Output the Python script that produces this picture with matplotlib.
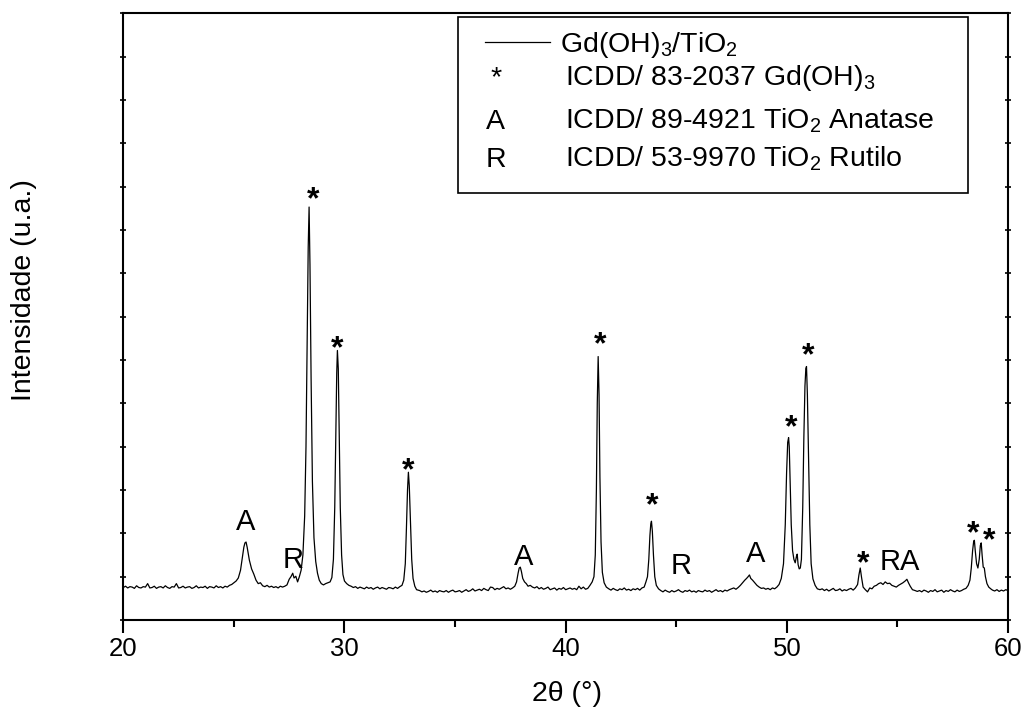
import matplotlib
matplotlib.use("Agg")
import matplotlib.pyplot as plt
from matplotlib.patches import Rectangle
from matplotlib.ticker import MultipleLocator

plt.rcParams["font.family"] = ["Liberation Sans", "DejaVu Sans"]
plt.rcParams["mathtext.fontset"] = "custom"
plt.rcParams["mathtext.rm"] = "Liberation Sans"
plt.rcParams["mathtext.it"] = "Liberation Sans:italic"

# XRD scan: (2theta in degrees, intensity in counts)
scan = [
    (20.0, 75), (20.1, 78), (20.2, 74), (20.3, 77), (20.4, 76), (20.5, 73), (20.6, 79), (20.7, 75), (20.8, 74), (20.9, 77),
    (21.0, 76), (21.1, 84), (21.2, 74), (21.3, 75), (21.4, 78), (21.5, 73), (21.6, 76), (21.7, 77), (21.8, 74), (21.9, 79),
    (22.0, 75), (22.1, 73), (22.2, 77), (22.3, 76), (22.4, 84), (22.5, 74), (22.6, 75), (22.7, 78), (22.8, 74), (22.9, 76),
    (23.0, 77), (23.1, 73), (23.2, 75), (23.3, 79), (23.4, 74), (23.5, 76), (23.6, 75), (23.7, 78), (23.8, 73), (23.9, 77),
    (24.0, 76), (24.1, 74), (24.2, 79), (24.3, 75), (24.4, 77), (24.5, 74), (24.6, 78), (24.7, 76), (24.8, 80),
    # anatase 25.5
    (24.9, 82), (25.0, 86), (25.1, 90), (25.2, 97), (25.3, 115), (25.4, 150), (25.45, 168), (25.5, 178), (25.55, 180),
    (25.6, 168), (25.7, 138), (25.8, 118), (25.9, 106), (26.0, 92), (26.1, 84), (26.2, 86), (26.3, 79), (26.4, 77),
    (26.5, 80), (26.6, 76), (26.7, 78), (26.8, 75), (26.9, 77), (27.0, 74), (27.1, 78), (27.2, 76),
    # rutile 27.7 and Gd(OH)3 28.4
    (27.3, 78), (27.4, 81), (27.5, 94), (27.58, 100), (27.66, 108), (27.72, 97), (27.8, 101), (27.88, 88), (27.96, 100),
    (28.04, 115), (28.12, 150), (28.2, 240), (28.26, 400), (28.31, 620), (28.36, 860), (28.4, 953), (28.44, 820),
    (28.49, 560), (28.55, 320), (28.62, 190), (28.7, 135), (28.78, 108), (28.86, 92), (28.95, 84), (29.05, 81), (29.15, 84),
    # 29.7
    (29.25, 86), (29.35, 88), (29.43, 98), (29.5, 140), (29.56, 260), (29.61, 430), (29.65, 570), (29.68, 622),
    (29.72, 580), (29.76, 440), (29.81, 260), (29.87, 150), (29.93, 105), (30.0, 90), (30.1, 84), (30.2, 80),
    (30.3, 78), (30.4, 75), (30.5, 77), (30.6, 73), (30.7, 76), (30.8, 74), (30.9, 72), (31.0, 76), (31.1, 73), (31.2, 75),
    (31.3, 71), (31.4, 74), (31.5, 76), (31.6, 72), (31.7, 75), (31.8, 73), (31.9, 71), (32.0, 75), (32.1, 74), (32.2, 72),
    (32.3, 76), (32.4, 73), (32.5, 77),
    # 32.9
    (32.6, 80), (32.68, 92), (32.75, 130), (32.8, 210), (32.85, 300), (32.89, 341), (32.93, 310), (32.98, 230),
    (33.04, 140), (33.1, 96), (33.18, 78), (33.26, 70),
    (33.4, 68), (33.5, 65), (33.6, 67), (33.7, 64), (33.8, 66), (33.9, 69), (34.0, 65), (34.1, 67), (34.2, 64), (34.3, 68),
    (34.4, 66), (34.5, 65), (34.6, 68), (34.7, 64), (34.8, 67), (34.9, 69), (35.0, 65), (35.1, 66), (35.2, 68), (35.3, 64),
    (35.4, 67), (35.5, 70), (35.6, 66), (35.7, 68), (35.8, 72), (35.9, 67), (36.0, 69), (36.1, 71), (36.2, 68), (36.3, 73),
    (36.4, 70), (36.5, 68), (36.6, 76), (36.7, 75), (36.8, 70), (36.9, 73), (37.0, 71), (37.1, 74), (37.2, 77), (37.3, 72),
    (37.4, 74), (37.5, 71),
    # anatase 37.9
    (37.6, 74), (37.7, 78), (37.78, 88), (37.85, 108), (37.9, 120), (37.95, 122), (38.0, 112), (38.06, 96), (38.14, 88),
    (38.22, 84), (38.3, 78),
    (38.4, 80), (38.5, 76), (38.6, 74), (38.7, 77), (38.8, 72), (38.9, 75), (39.0, 71), (39.1, 73), (39.2, 76), (39.3, 70),
    (39.4, 72), (39.5, 74), (39.6, 69), (39.7, 73), (39.8, 71), (39.9, 75), (40.0, 70), (40.1, 72), (40.2, 74), (40.3, 71),
    (40.4, 73), (40.5, 70), (40.6, 78), (40.7, 72), (40.8, 76), (40.9, 71), (41.0, 73), (41.1, 80),
    # 41.5
    (41.2, 88), (41.28, 100), (41.34, 150), (41.39, 300), (41.43, 500), (41.47, 608), (41.51, 520), (41.55, 330),
    (41.6, 180), (41.66, 110), (41.74, 86), (41.84, 76),
    (41.95, 72), (42.05, 69), (42.15, 73), (42.25, 70), (42.35, 68), (42.45, 72), (42.55, 70), (42.65, 74), (42.75, 69),
    (42.85, 71), (42.95, 68), (43.05, 72), (43.15, 70), (43.25, 73), (43.35, 69), (43.45, 74), (43.55, 76),
    # 43.9
    (43.63, 88), (43.7, 100), (43.76, 140), (43.81, 195), (43.85, 222), (43.88, 228), (43.92, 205), (43.97, 150),
    (44.03, 100), (44.1, 80), (44.2, 72),
    (44.3, 68), (44.4, 65), (44.5, 69), (44.6, 66), (44.7, 64), (44.8, 68), (44.9, 65), (45.0, 67), (45.1, 70), (45.2, 66),
    (45.3, 64), (45.4, 68), (45.5, 66), (45.6, 69), (45.7, 65), (45.8, 67), (45.9, 64), (46.0, 68), (46.1, 66), (46.2, 65),
    (46.3, 69), (46.4, 66), (46.5, 68), (46.6, 64), (46.7, 67), (46.8, 70), (46.9, 66), (47.0, 68), (47.1, 65), (47.2, 69),
    (47.3, 67), (47.4, 70), (47.5, 72), (47.6, 74), (47.7, 71), (47.8, 75),
    # anatase 48.3
    (47.9, 80), (48.0, 86), (48.1, 92), (48.18, 96), (48.25, 100), (48.31, 104), (48.37, 96), (48.45, 92), (48.55, 86),
    (48.65, 80), (48.75, 76), (48.85, 73), (48.95, 74), (49.05, 71), (49.15, 73), (49.25, 70), (49.35, 74), (49.45, 72),
    # 50.1 / 50.9
    (49.55, 76), (49.65, 82), (49.75, 96), (49.85, 130), (49.93, 220), (49.99, 340), (50.04, 410), (50.08, 421),
    (50.11, 400), (50.15, 320), (50.2, 220), (50.26, 160), (50.32, 140), (50.38, 132), (50.44, 148), (50.47, 152),
    (50.51, 128), (50.56, 118), (50.61, 120), (50.66, 140), (50.72, 260), (50.77, 420), (50.82, 540), (50.86, 580),
    (50.89, 585), (50.93, 520), (50.98, 380), (51.04, 220), (51.1, 130), (51.18, 95), (51.28, 80), (51.38, 72), (51.5, 70),
    (51.6, 72), (51.7, 68), (51.8, 71), (51.9, 67), (52.0, 70), (52.1, 73), (52.2, 68), (52.3, 69), (52.4, 72), (52.5, 67),
    (52.6, 70), (52.7, 68), (52.8, 71), (52.9, 73), (53.0, 69), (53.1, 74),
    # 53.3 and small bumps
    (53.2, 82), (53.26, 104), (53.32, 120), (53.38, 98), (53.45, 76), (53.55, 70), (53.65, 65), (53.75, 74), (53.85, 72),
    (53.95, 78), (54.05, 80), (54.15, 84), (54.25, 86), (54.35, 82), (54.45, 88), (54.55, 84), (54.65, 85), (54.75, 80),
    (54.85, 78), (54.95, 76), (55.05, 80), (55.15, 83), (55.25, 86), (55.35, 90), (55.43, 94), (55.5, 86), (55.58, 78),
    (55.68, 70), (55.8, 68),
    (55.9, 66), (56.0, 68), (56.1, 65), (56.2, 69), (56.3, 67), (56.4, 64), (56.5, 68), (56.6, 66), (56.7, 70), (56.8, 65),
    (56.9, 67), (57.0, 69), (57.1, 64), (57.2, 68), (57.3, 66), (57.4, 70), (57.5, 67), (57.6, 65), (57.7, 69), (57.8, 66),
    (57.9, 68), (58.0, 71), (58.1, 73),
    # 58.5 / 58.8
    (58.2, 80), (58.28, 92), (58.34, 120), (58.4, 160), (58.45, 182), (58.48, 184), (58.52, 160), (58.58, 130),
    (58.64, 120), (58.7, 140), (58.75, 172), (58.79, 178), (58.83, 150), (58.88, 122), (58.93, 120), (58.98, 100),
    (59.05, 84), (59.13, 76), (59.22, 72), (59.3, 69), (59.4, 67), (59.5, 70), (59.6, 66), (59.7, 69), (59.8, 67),
    (59.9, 70), (60.0, 68),
]
two_theta = [p[0] for p in scan]
counts = [p[1] for p in scan]

# phase markers above the peaks (label, 2theta, counts)
peak_labels = ["A", "R", "*", "*", "*", "A", "*", "*", "R", "A", "*", "*", "*", "RA", "*", "*"]
peak_x = [25.54, 27.69, 28.59, 29.68, 32.89, 38.09, 41.56, 43.91, 45.21, 48.60, 50.18, 50.98, 53.44, 55.09, 58.44, 59.17]
peak_y = [207, 119, 951, 606, 325, 127, 615, 244, 107, 134, 425, 590, 110, 115, 180, 164]

legend_symbols = ["*", "A", "R"]
legend_texts = [
    "ICDD/ 83-2037 Gd(OH)$_3$",
    "ICDD/ 89-4921 TiO$_2$ Anatase",
    "ICDD/ 53-9970 TiO$_2$ Rutilo",
]

fig = plt.figure(figsize=(10.25, 7.09), dpi=100)
ax = fig.add_axes([0.1203, 0.1255, 0.8631, 0.8557])

ax.plot(two_theta, counts, color="black", lw=0.9)

for lab, x, y in zip(peak_labels, peak_x, peak_y):
    if lab == "*":
        ax.text(x, y, lab, fontsize=23, fontweight="bold", ha="center", va="baseline")
    else:
        ax.text(x, y, lab, fontsize=21, ha="center", va="baseline")

ax.set_xlim(20, 60)
ax.set_ylim(0, 1400)

ax.xaxis.set_major_locator(MultipleLocator(10))
ax.xaxis.set_minor_locator(MultipleLocator(5))
ax.yaxis.set_major_locator(MultipleLocator(100))
ax.tick_params(axis="x", which="major", direction="out", length=9.5, width=1.5, labelsize=18.5, pad=3)
ax.tick_params(axis="x", which="minor", direction="out", length=5, width=1.5)
ax.tick_params(axis="y", which="major", direction="inout", length=4, width=1.2,
               left=True, right=True, labelleft=False)
for s in ax.spines.values():
    s.set_linewidth(1.5)

ax.set_xlabel("2θ (°)", fontsize=20.5)
ax.xaxis.set_label_coords(0.501, -0.100)
ax.set_ylabel("Intensidade (u.a.)", fontsize=20.5)
ax.yaxis.set_label_coords(-0.097, 0.544)

# legend drawn by hand to mimic the original layout
ax.add_patch(Rectangle((0.378, 0.704), 0.577, 0.290, transform=ax.transAxes,
                       fill=False, ec="black", lw=1.2))
ax.plot([0.409, 0.482], [0.952, 0.952], transform=ax.transAxes, color="black", lw=0.9)
ax.text(0.4936, 0.937, "Gd(OH)$_3$/TiO$_2$", transform=ax.transAxes, fontsize=20.5, va="baseline")
for sym, txt, yb in zip(legend_symbols, legend_texts, [0.882, 0.810, 0.747]):
    ax.text(0.421, yb, sym, transform=ax.transAxes, fontsize=20.5, ha="center", va="baseline")
    ax.text(0.499, yb, txt, transform=ax.transAxes, fontsize=20.5, va="baseline")

fig.savefig("out.png", dpi=100)
